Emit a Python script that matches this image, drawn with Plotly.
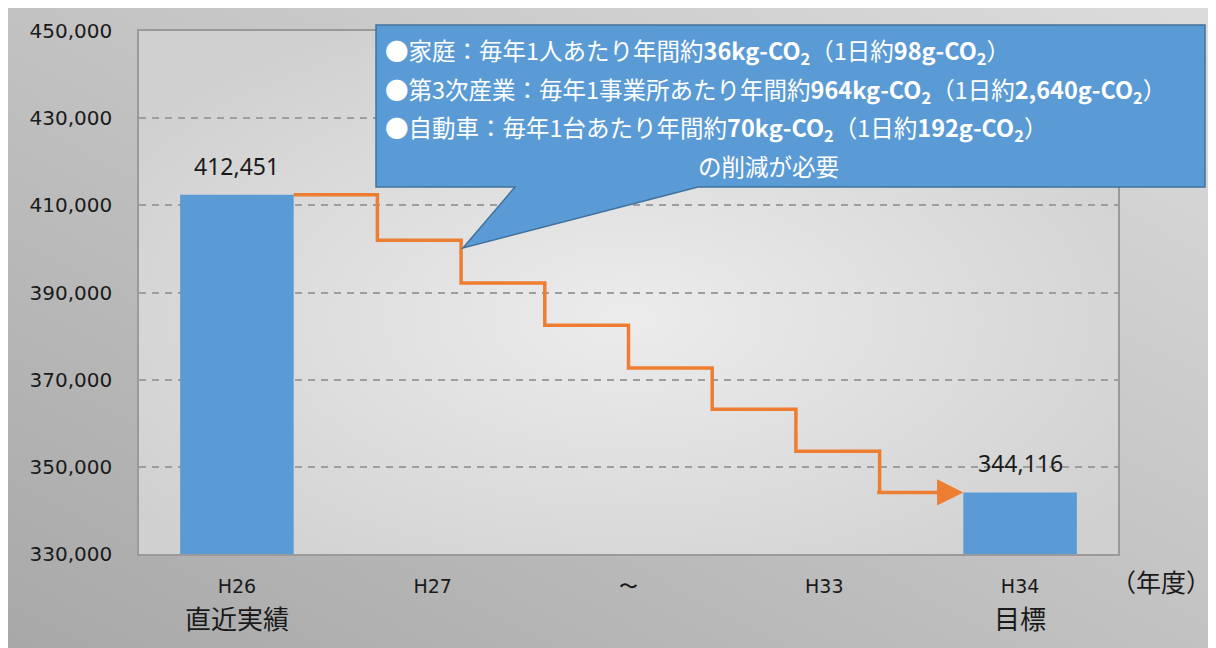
import base64
import numpy as np
import plotly.graph_objects as go

# ---- data ----
categories = ["H26", "H27", "〜", "H33", "H34"]
sub_labels = ["直近実績", "", "", "", "目標"]
bar_positions = [0, 4]
bar_values = [412451, 344116]
step_levels = [412451, 402000, 392200, 382500, 372700, 363200, 353600, 344116]
y_ticks = [330000, 350000, 370000, 390000, 410000, 430000, 450000]
callout_lines = [
    "●家庭：毎年1人あたり年間約<b>36kg-CO<sub>2</sub></b>（1日約<b>98g-CO<sub>2</sub></b>）",
    "●第3次産業：毎年1事業所あたり年間約<b>964kg-CO<sub>2</sub></b>（1日約<b>2,640g-CO<sub>2</sub></b>）",
    "●自動車：毎年1台あたり年間約<b>70kg-CO<sub>2</sub></b>（1日約<b>192g-CO<sub>2</sub></b>）",
]
callout_last = "の削減が必要"
unit_label = "（年度）"

# ---- layout geometry (page has an 8px body margin) ----
OFF = 8
W, H = 1208, 640
L, T = 131, 23
PW, PH = 979, 523
R, B = W - L - PW, H - T - PH


def px(x):  # page pixel -> paper
    return (x - OFF - L) / PW


def py(y):
    return (T + PH - (y - OFF)) / PH


BAR_W = 0.58
BLUE = "#5B9BD5"
ORANGE = "#ED7D31"
JP = "Noto Sans CJK JP"

# step-line x edges between the two bars
edges = np.linspace(bar_positions[0] + BAR_W / 2, bar_positions[1] - BAR_W / 2, len(step_levels) + 1)

fig = go.Figure()
fig.add_trace(go.Bar(x=bar_positions, y=bar_values, width=BAR_W,
                     marker=dict(color=BLUE, line=dict(width=0)), hoverinfo="skip"))
fig.add_trace(go.Scatter(x=list(edges[:len(step_levels)]), y=step_levels, mode="lines",
                         line=dict(color=ORANGE, width=3.5, shape="hv"), hoverinfo="skip"))

annotations = []
# arrow on last step
annotations.append(dict(x=edges[-1], y=step_levels[-1], xref="x", yref="y",
                        ax=edges[-2] - 0.02, ay=step_levels[-1], axref="x", ayref="y",
                        text="", showarrow=True, arrowhead=2, arrowsize=1.5, arrowwidth=3.5,
                        arrowcolor=ORANGE, standoff=0, startstandoff=0))
# bar value labels
for xpos, v in zip(bar_positions, bar_values):
    annotations.append(dict(x=xpos, y=v, xref="x", yref="y", text=f"{v:,}", showarrow=False,
                            xanchor="center", yanchor="middle",
                            yshift=29, font=dict(family="Noto Sans", size=23, color="#1a1a1a")))
# second-line category labels
for i, s in enumerate(sub_labels):
    if s:
        annotations.append(dict(x=i, y=py(617), xref="x", yref="paper", text=s, showarrow=False,
                                xanchor="center", yanchor="middle",
                                font=dict(family=JP, size=26, color="#1a1a1a")))
annotations.append(dict(x=px(1161), y=py(581), xref="paper", yref="paper", text=unit_label,
                        xanchor="center", yanchor="middle",
                        showarrow=False, font=dict(family=JP, size=25, color="#1a1a1a")))

# callout
shapes = []
cpath = ("M {a},{b} L {c},{b} L {c},{d} L {e},{d} L {f},{g} L {h},{d} L {a},{d} Z").format(
    a=px(376), b=py(25), c=px(1205), d=py(187), e=px(698), f=px(463), g=py(248), h=px(515))
shapes.append(dict(type="path", path=cpath, xref="paper", yref="paper",
                   fillcolor=BLUE, line=dict(color="#41719C", width=1.5), layer="above"))
for yy, line in zip([52, 90, 128], callout_lines):
    annotations.append(dict(x=px(383), y=py(yy), xref="paper", yref="paper", text=line,
                            xanchor="left", yanchor="middle", showarrow=False,
                            font=dict(family=JP, size=23.5, color="white")))
annotations.append(dict(x=px(768), y=py(166), xref="paper", yref="paper", text=callout_last,
                        xanchor="center", yanchor="middle", showarrow=False,
                        font=dict(family=JP, size=23.5, color="white")))

# background gradients as an svg image
svg = f'''<svg xmlns="http://www.w3.org/2000/svg" width="{W}" height="{H}" viewBox="0 0 {W} {H}">
<defs>
<linearGradient id="g1" x1="0" y1="1" x2="1" y2="0"><stop offset="0" stop-color="#A8A8A8"/><stop offset="1" stop-color="#DCDCDC"/></linearGradient>
<radialGradient id="g2" cx="0.5" cy="0.55" r="0.62"><stop offset="0" stop-color="#ECECEC"/><stop offset="1" stop-color="#D0D0D0"/></radialGradient>
</defs>
<rect width="{W}" height="{H}" fill="url(#g1)"/>
<rect x="{L}" y="{T}" width="{PW}" height="{PH}" fill="url(#g2)"/>
</svg>'''
src = "data:image/svg+xml;base64," + base64.b64encode(svg.encode()).decode()

fig.update_layout(
    width=W, height=H, margin=dict(l=L, r=R, t=T, b=B, pad=0),
    paper_bgcolor="white", plot_bgcolor="rgba(0,0,0,0)", showlegend=False,
    images=[dict(source=src, xref="paper", yref="paper", x=-L / PW, y=(PH + T) / PH,
                 sizex=W / PW, sizey=H / PH, xanchor="left", yanchor="top",
                 sizing="stretch", layer="below")],
    shapes=shapes, annotations=annotations,
    xaxis=dict(range=[-0.5, 4.5], tickmode="array", tickvals=list(range(len(categories))),
               ticktext=categories, showgrid=False, zeroline=False,
               showline=True, mirror=True, linecolor="#9A9A9A", linewidth=1.5,
               ticks="", ticklabelstandoff=14,
               tickfont=dict(family="DejaVu Sans", size=19, color="#1a1a1a")),
    yaxis=dict(range=[y_ticks[0], y_ticks[-1]], tickmode="array", tickvals=y_ticks,
               tickformat=",", showgrid=True, gridcolor="#9E9E9E", gridwidth=2,
               griddash="7px,6px", zeroline=False,
               showline=True, mirror=True, linecolor="#9A9A9A", linewidth=1.5,
               ticks="", ticklabelstandoff=21,
               tickfont=dict(family="DejaVu Sans", size=20, color="#1a1a1a")),
)

fig.write_html("out.html")
